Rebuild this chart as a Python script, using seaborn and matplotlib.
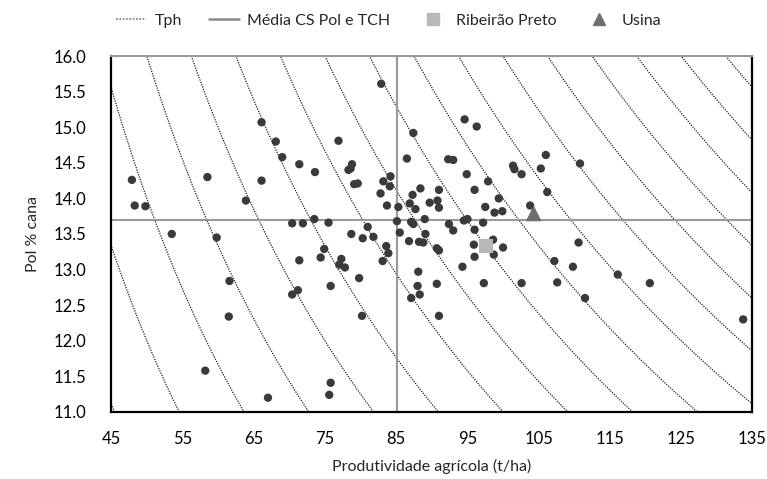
import numpy as np
import pandas as pd
import matplotlib
matplotlib.use('Agg')
import matplotlib.pyplot as plt
import seaborn as sns
from matplotlib.lines import Line2D

# ----------------------------------------------------
# dados (TCH t/ha, Pol % cana)
# ----------------------------------------------------
tch = [47.9, 48.3, 49.8, 53.5, 58.5, 58.2, 59.8, 61.6, 61.5, 63.9,
       66.1, 66.1, 67.0, 68.1, 69.0, 70.4, 70.4, 71.2, 71.4, 71.4,
       71.9, 73.5, 73.6, 74.4, 74.9, 75.5, 75.8, 75.8, 75.6, 76.9,
       77.3, 77.0, 77.8, 78.3, 78.6, 78.8, 78.7, 79.1, 79.6, 79.8,
       80.2, 80.3, 81.0, 81.8, 82.8, 82.9, 83.1, 83.2, 83.6, 83.9,
       83.7, 84.1, 84.2,
       85.1, 85.3, 85.5, 86.5, 86.8, 86.9, 87.1, 87.4, 87.3, 87.4,
       87.7, 87.1, 88.0, 88.1, 88.2, 88.3, 88.4, 88.8, 89.0, 89.1,
       89.7, 90.7, 90.7, 90.8, 91.0, 91.0, 91.0, 91.0, 92.3, 93.0,
       92.4, 93.0, 94.3, 94.5, 94.6, 94.9, 95.0, 95.9, 96.0, 96.0,
       96.0, 96.3, 97.2, 97.3, 97.5, 97.9, 98.6, 98.7, 98.8, 99.4,
       99.9, 100.0,
       101.4, 101.6, 102.6, 102.6, 103.8, 105.3, 106.0, 106.2, 107.2,
       107.6, 109.8, 110.6, 110.8, 111.5, 116.1, 120.6, 133.7]
pol = [14.26, 13.90, 13.89, 13.50, 14.30, 11.58, 13.45, 12.84, 12.34, 13.97,
       15.07, 14.25, 11.20, 14.80, 14.58, 13.65, 12.65, 12.71, 13.13, 14.48,
       13.65, 13.71, 14.37, 13.17, 13.29, 13.66, 12.77, 11.41, 11.24, 14.81,
       13.15, 13.07, 13.03, 14.40, 14.42, 14.48, 13.50, 14.20, 14.21, 12.88,
       12.35, 13.44, 13.60, 13.46, 14.07, 15.61, 13.12, 14.24, 13.33, 13.23,
       13.90, 14.17, 14.31,
       13.68, 13.88, 13.52, 14.56, 13.40, 13.93, 13.67, 13.64, 14.05, 14.92,
       13.85, 12.60, 12.77, 12.97, 13.39, 12.65, 14.14, 13.38, 13.71, 13.50,
       13.94, 13.30, 12.80, 13.97, 13.27, 13.87, 14.12, 12.35, 14.55, 14.54,
       13.64, 13.55, 13.04, 13.69, 15.11, 14.34, 13.71, 13.35, 13.56, 13.18,
       14.12, 15.01, 13.66, 12.81, 13.88, 14.24, 13.42, 13.21, 13.80, 14.00,
       13.82, 13.31,
       14.46, 14.41, 14.34, 12.81, 13.90, 14.42, 14.61, 14.09, 13.12,
       12.82, 13.04, 13.38, 14.49, 12.60, 12.93, 12.81, 12.30]

ribeirao_tch = [97.6]
ribeirao_pol = [13.33]
usina_tch = [104.3]
usina_pol = [13.79]

media_tch = 85.1
media_pol = 13.7

tph_niveis = [5, 6, 7, 8, 9, 10, 11, 12, 13, 14, 15, 16, 17, 18, 19, 20, 21]

x_ticks = [45, 55, 65, 75, 85, 95, 105, 115, 125, 135]
y_ticks = [11.0, 11.5, 12.0, 12.5, 13.0, 13.5, 14.0, 14.5, 15.0, 15.5, 16.0]

df = pd.DataFrame({'TCH': tch, 'Pol': pol})

# ----------------------------------------------------
# gráfico
# ----------------------------------------------------
sns.set_style('white')
plt.rcParams['font.family'] = ['Lato', 'DejaVu Sans']

fig, ax = plt.subplots(figsize=(7.67, 4.79), dpi=100)
fig.subplots_adjust(left=0.145, right=0.981, top=0.883, bottom=0.140)

# curvas de Tph = TCH * Pol / 100
xs = np.linspace(40, 140, 400)
for t in tph_niveis:
    ax.plot(xs, t * 100 / xs, color='#222222', lw=0.9, ls=(0, (1, 1)), zorder=1)

ax.axvline(media_tch, color='#9a9a9a', lw=1.5, zorder=2)
ax.axhline(media_pol, color='#9a9a9a', lw=1.5, zorder=2)

sns.scatterplot(data=df, x='TCH', y='Pol', ax=ax, color='#3a3a3a', s=36,
                edgecolor='none', zorder=3)
sns.scatterplot(x=ribeirao_tch, y=ribeirao_pol, ax=ax, marker='s', color='#b8b8b8',
                s=95, edgecolor='none', zorder=4)
sns.scatterplot(x=usina_tch, y=usina_pol, ax=ax, marker='^', color='#6e6e6e',
                s=130, edgecolor='none', zorder=4)

ax.set_xlim(45, 135)
ax.set_ylim(11.0, 16.0)
ax.set_xticks(x_ticks)
ax.set_yticks(y_ticks)
ax.set_yticklabels([f'{v:.1f}' for v in y_ticks])
ax.tick_params(axis='both', labelsize=12, colors='black')
ax.tick_params(axis='y', direction='out', length=6, width=1.2, pad=12)
ax.tick_params(axis='x', direction='inout', length=8, width=1.0, pad=10)

for lado in ['left', 'bottom', 'right']:
    ax.spines[lado].set_color('black')
    ax.spines[lado].set_linewidth(1.6)
ax.spines['top'].set_color('#999999')
ax.spines['top'].set_linewidth(1.5)

ax.set_xlabel('Produtividade agrícola (t/ha)', fontsize=11.5, labelpad=8)
ax.set_ylabel('Pol % cana', fontsize=11.5, labelpad=10)

# legenda
handles = [
    Line2D([], [], color='#777777', lw=1.2, ls=(0, (1, 1))),
    Line2D([], [], color='#888888', lw=1.8),
    Line2D([], [], marker='s', color='#b8b8b8', ls='none', markersize=9),
    Line2D([], [], marker='^', color='#6e6e6e', ls='none', markersize=9),
]
labels = ['Tph', 'Média CS Pol e TCH', 'Ribeirão Preto', 'Usina']
fig.legend(handles, labels, loc='center', bbox_to_anchor=(0.507, 0.957), ncol=4,
           frameon=False, fontsize=11.5, handlelength=1.9, columnspacing=1.7,
           handletextpad=0.5)

plt.savefig('out.png', dpi=100)
